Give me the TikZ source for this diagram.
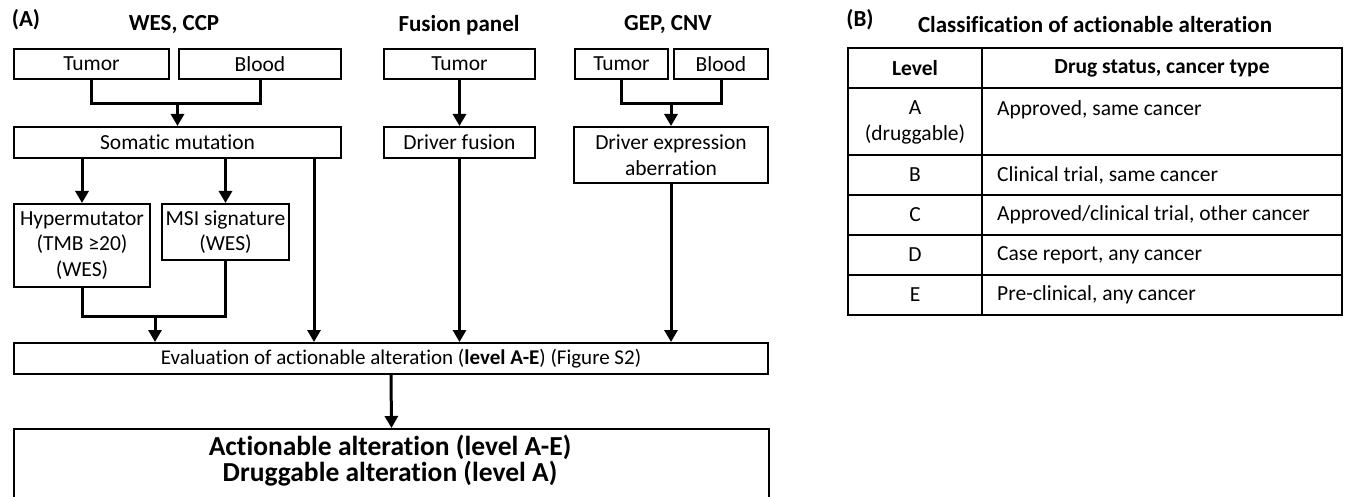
\documentclass[tikz,border=0pt]{standalone}
\usepackage{fontspec}
\setmainfont{Carlito}[Ligatures=NoCommon]
\usetikzlibrary{arrows.meta,calc}
\newcommand{\myNF}{\fontsize{21.5}{25.5}\selectfont}
\newcommand{\myTF}{\fontsize{23}{28}\selectfont\bfseries}
\newcommand{\myBF}{\fontsize{27.5}{26}\selectfont\bfseries}
\tikzset{
  bx/.style={draw, line width=2pt, inner sep=0pt, align=center, font=\myNF, anchor=north west},
  ln/.style={line width=3pt},
  arr/.style={line width=3pt, -{Triangle[width=13pt,length=12pt]}},
  ttl/.style={font=\myTF, inner sep=0pt},
  cell/.style={font=\myNF, inner sep=0pt, align=center},
  tline/.style={line width=2pt},
}
\begin{document}
\begin{tikzpicture}[x=1pt,y=-1pt]
\clip (0,0) rectangle (1346,497);
\fill[white] (0,0) rectangle (1346,497);

% titles
\node[ttl] (pa) at (26,20) {(A)};
\node[ttl] (pb) at (860,20) {(B)};
\node[ttl] (h1) at (174,25) {WES, CCP};
\node[ttl] (h2) at (459,25) {Fusion panel};
\node[ttl] (h3) at (668,25) {GEP, CNV};
\node[ttl] (h4) at (1095,25) {Classification of actionable alteration};

% WES, CCP column
\node[bx, minimum width=155pt, minimum height=30pt] (t1) at (13,48) {Tumor};
\node[bx, minimum width=162pt, minimum height=30pt] (b1) at (178,48) {Blood};
\node[bx, minimum width=327pt, minimum height=31pt] (som) at (13,126) {Somatic mutation};
\node[bx, minimum width=136pt, minimum height=83pt] (hyp) at (13,203) {Hypermutator\\(TMB ≥20)\\(WES)};
\node[bx, minimum width=127pt, minimum height=56pt] (msi) at (161,203) {MSI signature\\(WES)};

% Fusion panel column
\node[bx, minimum width=151pt, minimum height=30pt] (t2) at (383,48) {Tumor};
\node[bx, minimum width=151pt, minimum height=31pt] (fus) at (383,126) {Driver fusion};

% GEP, CNV column
\node[bx, minimum width=93pt, minimum height=30pt] (t3) at (574,48) {Tumor};
\node[bx, minimum width=94pt, minimum height=30pt] (b3) at (673,48) {Blood};
\node[bx, minimum width=194pt, minimum height=56pt] (drv) at (573,126) {Driver expression\\aberration};

% evaluation and result
\node[bx, minimum width=754pt, minimum height=31pt, font=\fontsize{21}{25}\selectfont] (eval) at (13,342)
  {\hspace*{20pt}Evaluation of actionable alteration (\textbf{level A-E}) (Figure S2)};
\node[bx, minimum width=755pt, minimum height=95pt] (act) at (13,428) {};
\node[inner sep=0pt, font=\myBF, align=center] (actt) at (390,461)
  {Actionable alteration (level A-E)\\Druggable alteration (level A)};

% connectors
\draw[ln] (t1.south) -- ++(0,24) -| (b1.south);
\coordinate (j1) at ($(som.north)+(0,-24)$);
\draw[arr] (j1) -- (som.north);
\draw[arr] (som.south -| hyp.north) -- (hyp.north);
\draw[arr] (som.south -| msi.north) -- (msi.north);
\coordinate (s3) at ($(som.south east)+(-28,0)$);
\draw[arr] (s3) -- (s3 |- eval.north);
\draw[ln] (hyp.south) -- ++(0,28) -| (msi.south);
\coordinate (j2) at ($(hyp.south)+(73,28)$);
\draw[arr] (j2) -- (j2 |- eval.north);

\draw[arr] (t2.south) -- (fus.north);
\draw[arr] (fus.south) -- (fus.south |- eval.north);

\draw[ln] (t3.south) -- ++(0,24) -| (b3.south);
\coordinate (j3) at ($(drv.north)+(0,-24)$);
\draw[arr] (j3) -- (drv.north);
\draw[arr] (drv.south) -- (drv.south |- eval.north);

\draw[arr] (eval.south) -- (act.north);

% table
\draw[tline] (848,48) rectangle (1342,315);
\foreach \yy in {88,155,195,235,275} \draw[tline] (848,\yy) -- (1342,\yy);
\draw[tline] (982,48) -- (982,315);

\node[cell, font=\myNF\bfseries] (c0a) at (915,68) {Level};
\node[cell, font=\myNF\bfseries] (c0b) at (1162,68) {Drug status, cancer type};
\node[cell] (cAa) at (915,122.5) {A\\(druggable)};
\node[cell, anchor=west] (cAb) at (997,110) {Approved, same cancer};
\node[cell] (cBa) at (915,175) {B};
\node[cell, anchor=west] (cBb) at (997,175) {Clinical trial, same cancer};
\node[cell] (cCa) at (915,215) {C};
\node[cell, anchor=west] (cCb) at (997,215) {Approved/clinical trial, other cancer};
\node[cell] (cDa) at (915,255) {D};
\node[cell, anchor=west] (cDb) at (997,255) {Case report, any cancer};
\node[cell] (cEa) at (915,295) {E};
\node[cell, anchor=west] (cEb) at (997,295) {Pre-clinical, any cancer};
\end{tikzpicture}
\end{document}
